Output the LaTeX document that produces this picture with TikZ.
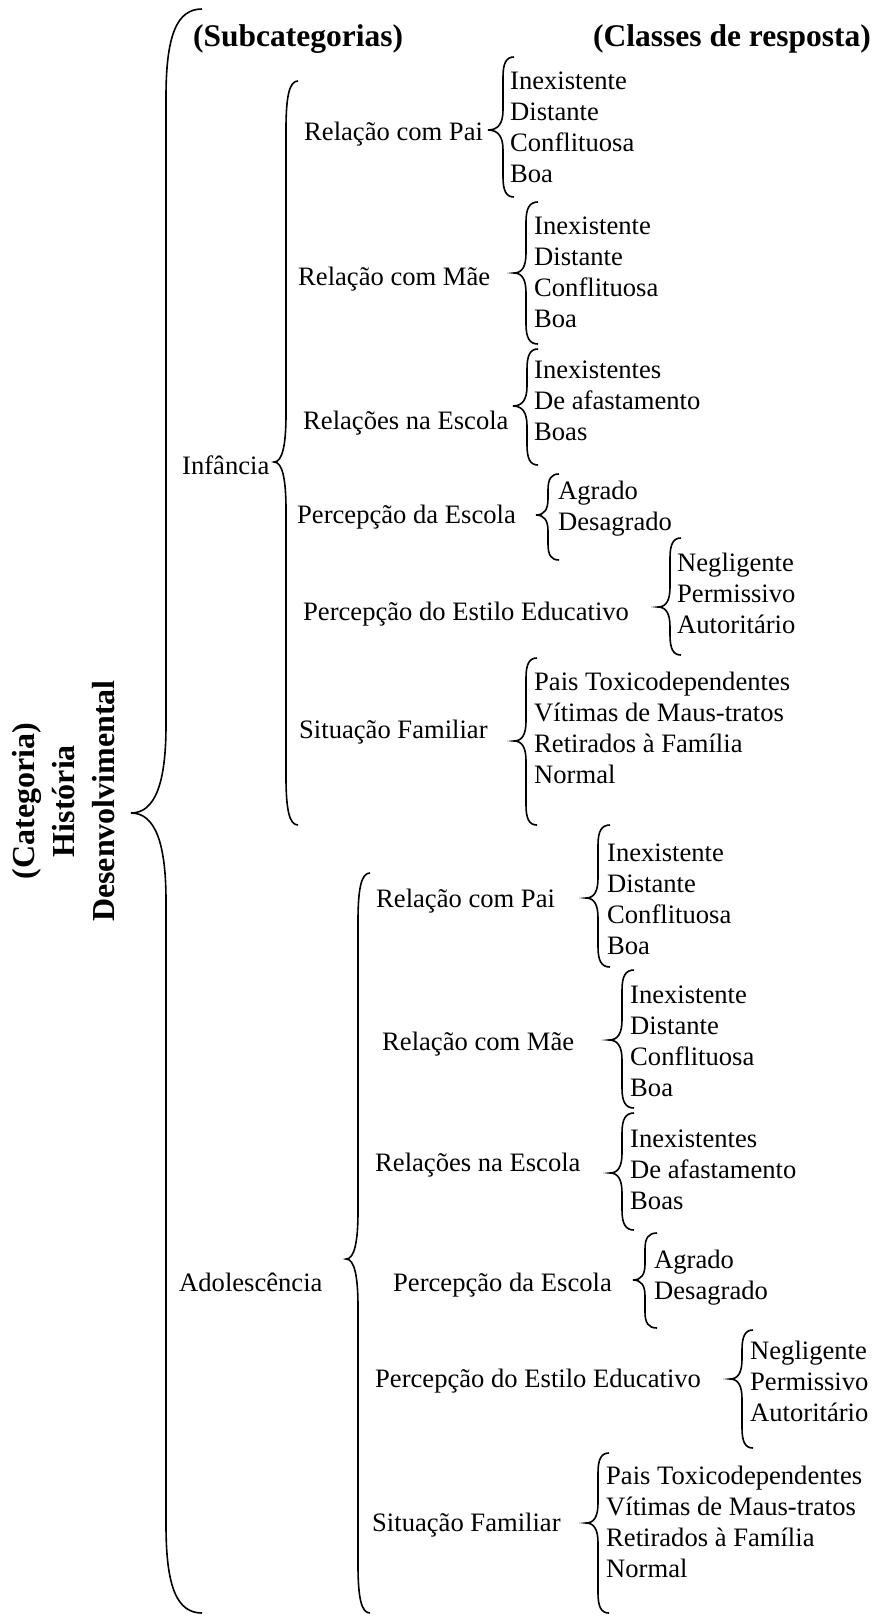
\documentclass[tikz,border=0pt]{standalone}
\usepackage{fontspec}
\setmainfont{Liberation Serif}
\tikzset{
  chv/.style={line width=1.6pt},
  rotulo/.style={anchor=west, inner sep=0pt, text height=17.5pt, text depth=0pt, font=\fontsize{26.6}{30.9}\selectfont},
  titulo/.style={inner sep=0pt, font=\fontsize{31.5}{36}\selectfont\bfseries},
}
% brace: x, top, tip, bottom, hook width, tip depth, curve length
\newcommand{\chave}[7]{%
  \draw[chv] ({#1+#5},#2) .. controls ({#1+0.3*#5},#2) and (#1,{#2+0.3*#7}) .. (#1,{#2+#7})
    -- (#1,{#3-#7}) .. controls (#1,{#3-0.35*#7}) and ({#1-0.3*#6},#3) .. ({#1-#6},#3)
    .. controls ({#1-0.3*#6},#3) and (#1,{#3+0.35*#7}) .. (#1,{#3+#7})
    -- (#1,{#4-#7}) .. controls (#1,{#4-0.3*#7}) and ({#1+0.3*#5},#4) .. ({#1+#5},#4);}
\begin{document}
\begin{tikzpicture}[x=1pt, y=-1pt]
\useasboundingbox (0,0) rectangle (874,1617);
%titles
    \node[titulo, anchor=west] (sub) at (193,39) {(Subcategorias)};
    \node[titulo, anchor=east] (cls) at (871,39) {(Classes de resposta)};
    \node[titulo, rotate=90, align=center, font=\fontsize{32}{40}\selectfont\bfseries] (cat) at (64,801) {(Categoria)\\História\\Desenvolvimental};
%big braces
    \chave{166}{9}{813}{1613}{36}{35}{88}
    \chave{286}{81}{462}{825}{12}{12}{48}
    \chave{358}{873}{1259}{1613}{12}{12}{48}
%stages
    \node[rotulo] (inf) at (182,466) {Infância};
    \node[rotulo] (adol) at (179,1283) {Adolescência};
%subcategories - infancia
    \node[rotulo] (ipai) at (304,132) {Relação com Pai};
    \node[rotulo] (imae) at (298,277) {Relação com Mãe};
    \node[rotulo] (iesc) at (303,421) {Relações na Escola};
    \node[rotulo] (iperc) at (297,515) {Percepção da Escola};
    \node[rotulo] (iest) at (303,612) {Percepção do Estilo Educativo};
    \node[rotulo] (isit) at (299,730) {Situação Familiar};
    \chave{503}{57}{130}{197}{11}{15}{20}
    \chave{526}{202}{273}{344}{12}{12}{20}
    \chave{527}{349}{406}{465}{11}{14}{20}
    \chave{548}{474}{515}{560}{11}{12}{16}
    \chave{670}{538}{607}{655}{11}{12}{20}
    \chave{526}{658}{741}{825}{11}{12}{20}
    \foreach \t [count=\i] in {Inexistente,Distante,Conflituosa,Boa}
        \node[rotulo] (ipai\i) at (510,{81+30.9*(\i-1)}) {\t};
    \foreach \t [count=\i] in {Inexistente,Distante,Conflituosa,Boa}
        \node[rotulo] (imae\i) at (534,{226+30.9*(\i-1)}) {\t};
    \foreach \t [count=\i] in {Inexistentes,De afastamento,Boas}
        \node[rotulo] (iesc\i) at (534,{370+30.9*(\i-1)}) {\t};
    \foreach \t [count=\i] in {Agrado,Desagrado}
        \node[rotulo] (iperc\i) at (558,{491+30.9*(\i-1)}) {\t};
    \foreach \t [count=\i] in {Negligente,Permissivo,Autoritário}
        \node[rotulo] (iest\i) at (677,{563+30.9*(\i-1)}) {\t};
    \foreach \t [count=\i] in {Pais Toxicodependentes,Vítimas de Maus-tratos,Retirados à Família,Normal}
        \node[rotulo] (isit\i) at (534,{682+30.9*(\i-1)}) {\t};
%subcategories - adolescencia
    \node[rotulo] (apai) at (376,899) {Relação com Pai};
    \node[rotulo] (amae) at (382,1042) {Relação com Mãe};
    \node[rotulo] (aesc) at (375,1163) {Relações na Escola};
    \node[rotulo] (aperc) at (393,1283) {Percepção da Escola};
    \node[rotulo] (aest) at (375,1379) {Percepção do Estilo Educativo};
    \node[rotulo] (asit) at (372,1523) {Situação Familiar};
    \chave{598}{825}{898}{967}{12}{12}{20}
    \chave{622}{970}{1040}{1108}{12}{13}{20}
    \chave{622}{1113}{1173}{1230}{12}{12}{20}
    \chave{645}{1233}{1280}{1328}{12}{12}{16}
    \chave{742}{1330}{1379}{1448}{11}{12}{20}
    \chave{598}{1453}{1523}{1613}{11}{12}{20}
    \foreach \t [count=\i] in {Inexistente,Distante,Conflituosa,Boa}
        \node[rotulo] (apai\i) at (607,{853+30.9*(\i-1)}) {\t};
    \foreach \t [count=\i] in {Inexistente,Distante,Conflituosa,Boa}
        \node[rotulo] (amae\i) at (630,{995+30.9*(\i-1)}) {\t};
    \foreach \t [count=\i] in {Inexistentes,De afastamento,Boas}
        \node[rotulo] (aesc\i) at (630,{1139+30.9*(\i-1)}) {\t};
    \foreach \t [count=\i] in {Agrado,Desagrado}
        \node[rotulo] (aperc\i) at (654,{1260+30.9*(\i-1)}) {\t};
    \foreach \t [count=\i] in {Negligente,Permissivo,Autoritário}
        \node[rotulo] (aest\i) at (750,{1351+30.9*(\i-1)}) {\t};
    \foreach \t [count=\i] in {Pais Toxicodependentes,Vítimas de Maus-tratos,Retirados à Família,Normal}
        \node[rotulo] (asit\i) at (606,{1476+30.9*(\i-1)}) {\t};
\end{tikzpicture}
\end{document}
